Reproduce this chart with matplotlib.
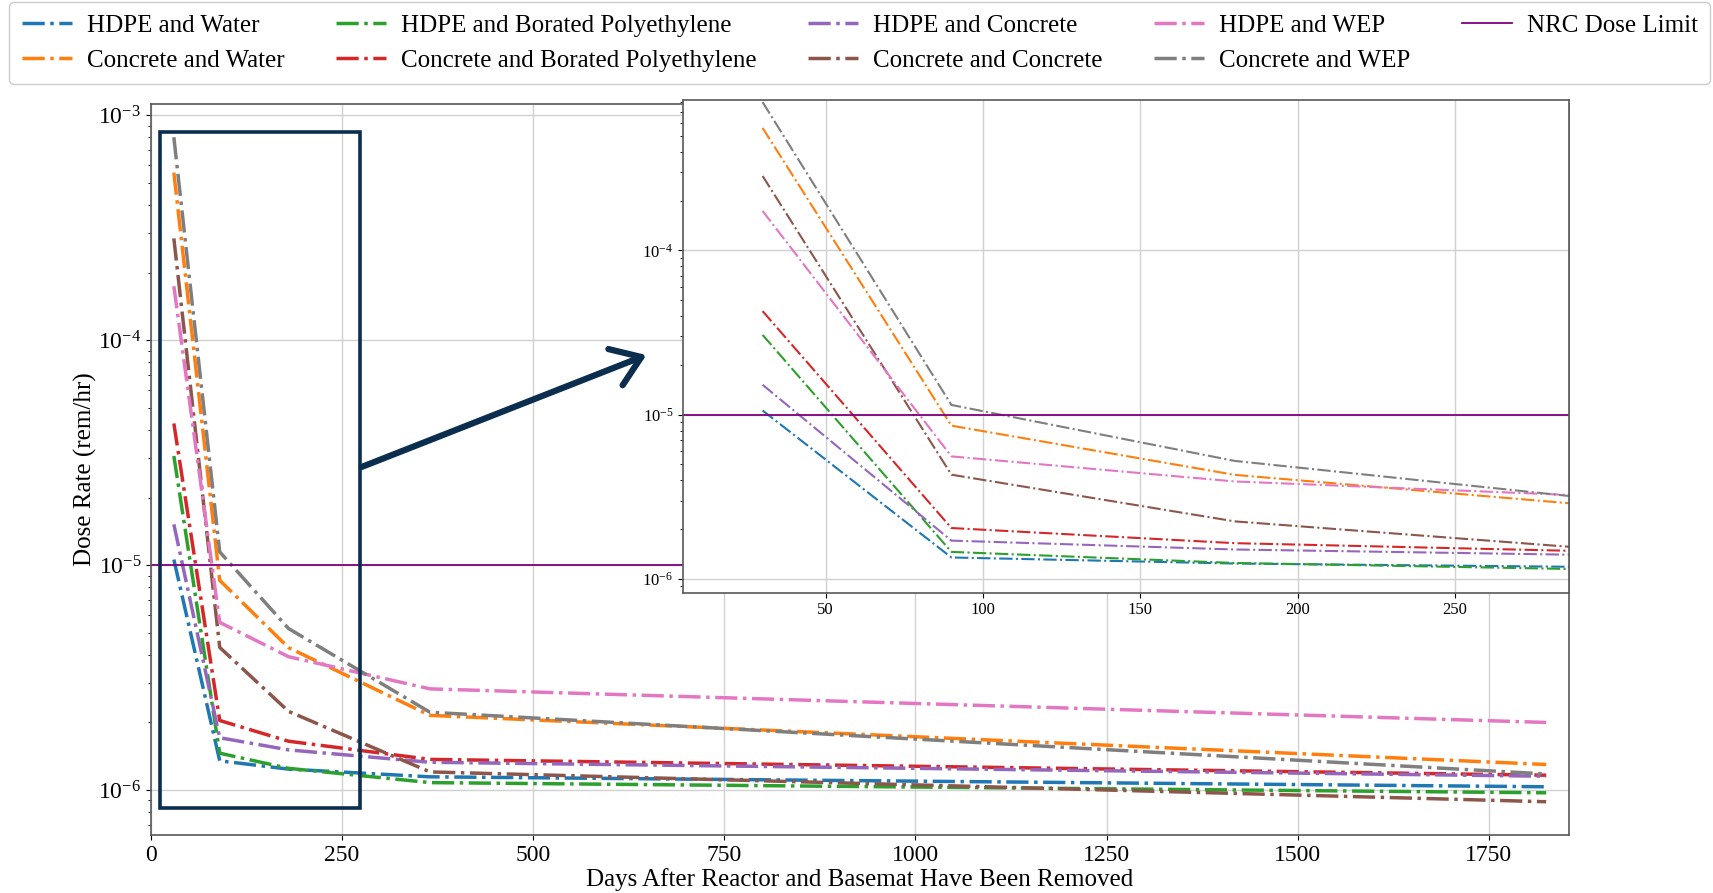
import matplotlib
matplotlib.use("Agg")
import matplotlib.pyplot as plt
from matplotlib.patches import Rectangle, FancyArrowPatch

plt.rcParams["font.family"] = ["Liberation Serif", "DejaVu Serif"]
plt.rcParams["mathtext.fontset"] = "stix"

# Days after removal at which dose rates were evaluated
days = [30, 90, 180, 365, 1825]

# Dose rate (rem/hr) for each shielding configuration
hdpe_water = [1.06e-5, 1.35e-6, 1.24e-6, 1.146e-6, 1.035e-6]
concrete_water = [5.57e-4, 8.57e-6, 4.30e-6, 2.15e-6, 1.30e-6]
hdpe_bpe = [3.06e-5, 1.46e-6, 1.25e-6, 1.08e-6, 0.973e-6]
concrete_bpe = [4.27e-5, 2.04e-6, 1.65e-6, 1.37e-6, 1.165e-6]
hdpe_concrete = [1.52e-5, 1.71e-6, 1.51e-6, 1.33e-6, 1.153e-6]
concrete_concrete = [2.84e-4, 4.31e-6, 2.24e-6, 1.205e-6, 0.888e-6]
hdpe_wep = [1.74e-4, 5.57e-6, 3.92e-6, 2.82e-6, 2.00e-6]
concrete_wep = [8.0e-4, 1.146e-5, 5.23e-6, 2.22e-6, 1.18e-6]

nrc_limit = 1e-5

series = [
    ("HDPE and Water", hdpe_water, "tab:blue"),
    ("Concrete and Water", concrete_water, "tab:orange"),
    ("HDPE and Borated Polyethylene", hdpe_bpe, "tab:green"),
    ("Concrete and Borated Polyethylene", concrete_bpe, "tab:red"),
    ("HDPE and Concrete", hdpe_concrete, "tab:purple"),
    ("Concrete and Concrete", concrete_concrete, "tab:brown"),
    ("HDPE and WEP", hdpe_wep, "tab:pink"),
    ("Concrete and WEP", concrete_wep, "tab:gray"),
]

navy = "#0b2e4e"
spine_col = "0.35"

fig = plt.figure(figsize=(17.13, 8.93), dpi=100)

# Main axes: full five-year record
ax = fig.add_axes([0.0881, 0.065, 0.8279, 0.8185])
handles = []
for label, vals, col in series:
    h, = ax.plot(days, vals, linestyle="-.", color=col, lw=2.5, label=label)
    handles.append(h)
hl = ax.axhline(nrc_limit, color="purple", lw=1.3, label="NRC Dose Limit")
handles.append(hl)
ax.set_yscale("log")
ax.set_xlim(0, 1855)
ax.grid(True, color="0.82", lw=1.0)
ax.set_xticks([0, 250, 500, 750, 1000, 1250, 1500, 1750])
ax.tick_params(labelsize=17)
ax.set_xlabel("Days After Reactor and Basemat Have Been Removed", fontsize=18, labelpad=2)
ax.set_ylabel("Dose Rate (rem/hr)", fontsize=18, labelpad=1)
for s in ax.spines.values():
    s.set_color(spine_col)
    s.set_linewidth(1.2)

# Box marking the region enlarged in the inset
ax.add_patch(Rectangle((12, 8.3e-7), 262, 8.4e-4 - 8.3e-7, fill=False,
                       edgecolor=navy, lw=2.6, zorder=5))

# Inset: first ~290 days
axin = fig.add_axes([0.3987, 0.3363, 0.5173, 0.5517])
axin.set_facecolor("white")
for label, vals, col in series:
    axin.plot(days, vals, linestyle="-.", color=col, lw=1.5)
axin.axhline(nrc_limit, color="purple", lw=1.3)
axin.set_yscale("log")
axin.set_xlim(4.7, 286.3)
axin.set_ylim(8.24e-7, 8.24e-4)
axin.set_xticks([50, 100, 150, 200, 250])
axin.grid(True, color="0.82", lw=1.0)
axin.tick_params(labelsize=12)
for s in axin.spines.values():
    s.set_color(spine_col)
    s.set_linewidth(1.2)

# Arrow pointing from the box to the inset
arrow = FancyArrowPatch((359 / 1713, 1 - 468 / 893), (649 / 1713, 1 - 354 / 893),
                        transform=fig.transFigure, arrowstyle="->,head_length=10,head_width=7",
                        color=navy, lw=4.5, mutation_scale=2)
fig.patches.append(arrow)

fig.legend(handles=handles, loc="upper left", bbox_to_anchor=(0.0053, 0.9978, 0.993, 0),
           mode="expand", ncol=5, fontsize=18, borderaxespad=0, handlelength=2.0,
           handletextpad=0.6, labelspacing=0.5, borderpad=0.5, fancybox=True,
           framealpha=1)

fig.savefig("out.png", dpi=100)
